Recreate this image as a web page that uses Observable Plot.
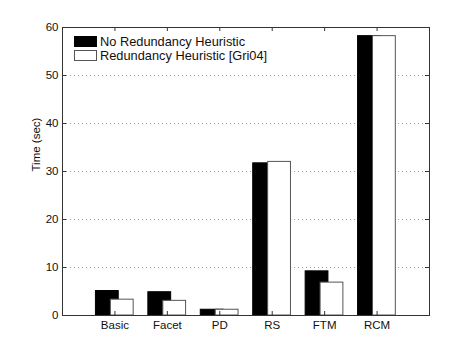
<!DOCTYPE html>
<html>
<head>
<meta charset="utf-8">
<script src="https://cdn.jsdelivr.net/npm/d3@7"></script>
<script src="https://cdn.jsdelivr.net/npm/@observablehq/plot@0.6"></script>
<style>
  html, body { margin: 0; padding: 0; background: #fff; }
  #wrap { position: relative; width: 474px; height: 355px; font-family: "Liberation Sans", Arial, sans-serif; }
  .legend { position: absolute; left: 74px; top: 34px; font-size: 12.8px; color: #111; font-family: "Liberation Sans", Arial, sans-serif; }
  .legend .row { display: flex; align-items: center; height: 14.3px; }
  .legend .sw { width: 23px; height: 11px; margin-right: 3px; box-sizing: border-box; flex: none; }
</style>
</head>
<body>
<div id="wrap"></div>
<script>
const categories = ["Basic", "Facet", "PD", "RS", "FTM", "RCM"];
const seriesNames = ["No Redundancy Heuristic", "Redundancy Heuristic [Gri04]"];
const noRedundancy = [5.1, 4.85, 1.2, 31.7, 9.2, 58.2];
const redundancy = [3.3, 3.05, 1.2, 32.0, 6.85, 58.2];
const yTicks = [0, 10, 20, 30, 40, 50, 60];
const yLabel = "Time (sec)";
const seriesFill = ["#000", "#fff"];
const seriesStroke = ["#000", "#555"];

const W = 474, H = 355, mL = 62, mR = 45, mT = 27, mB = 40;
const innerW = W - mL - mR, innerH = H - mT - mB;
const barOffset = [-0.145, 0.14];
const barWidth = 0.435;
const xTicks = categories.map((c, i) => i + 1);

const rows = [];
[noRedundancy, redundancy].forEach((vals, s) => {
  vals.forEach((v, i) => rows.push({cat: categories[i], i: i + 1, s, value: v}));
});

const chart = Plot.plot({
  width: W, height: H,
  marginLeft: mL, marginRight: mR, marginTop: mT, marginBottom: mB,
  style: {fontFamily: "Liberation Sans, Arial, sans-serif", fontSize: "11.5px", color: "#111", background: "#fff"},
  x: {domain: [0, 7]},
  y: {domain: [0, 60]},
  marks: [
    Plot.gridY(yTicks.slice(1, -1), {stroke: "#999", strokeOpacity: 1, strokeDasharray: "1,3"}),
    Plot.rectY(rows.filter(d => d.s === 0), {
      x1: d => d.i + barOffset[0] - barWidth / 2, x2: d => d.i + barOffset[0] + barWidth / 2,
      y1: 0, y2: "value", fill: seriesFill[0], stroke: seriesStroke[0]
    }),
    Plot.rectY(rows.filter(d => d.s === 1), {
      x1: d => d.i + barOffset[1] - barWidth / 2, x2: d => d.i + barOffset[1] + barWidth / 2,
      y1: 0, y2: "value", fill: seriesFill[1], stroke: seriesStroke[1]
    }),
    Plot.tickY(yTicks, {y: d => d, stroke: "#333", insetRight: innerW - 4}),
    Plot.tickY(yTicks, {y: d => d, stroke: "#333", insetLeft: innerW - 4}),
    Plot.tickX(xTicks, {x: d => d, stroke: "#333", insetBottom: innerH - 4}),
    Plot.tickX(xTicks, {x: d => d, stroke: "#333", insetTop: innerH - 4}),
    Plot.frame({stroke: "#333"}),
    Plot.axisY({ticks: yTicks, tickSize: 0, tickPadding: 4, label: null, fontSize: 11.5}),
    Plot.axisX({ticks: xTicks, tickSize: 0, tickPadding: 5, tickFormat: d => categories[d - 1], label: null, fontSize: 11.5}),
    Plot.text([yLabel], {text: d => d, frameAnchor: "left", rotate: -90, dx: -26, fontSize: 11.5, fill: "#111"})
  ]
});

const wrap = document.getElementById("wrap");
wrap.appendChild(chart);

const legend = document.createElement("div");
legend.className = "legend";
seriesNames.forEach((name, s) => {
  const row = document.createElement("div");
  row.className = "row";
  const sw = document.createElement("div");
  sw.className = "sw";
  sw.style.background = seriesFill[s];
  sw.style.border = "1px solid " + seriesStroke[s];
  const t = document.createElement("span");
  t.textContent = name;
  row.appendChild(sw);
  row.appendChild(t);
  legend.appendChild(row);
});
wrap.appendChild(legend);
</script>
</body>
</html>
